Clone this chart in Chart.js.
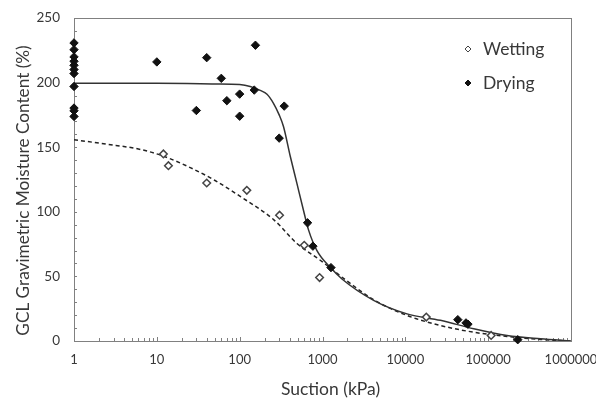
<!DOCTYPE html>
<html>
<head>
<meta charset="utf-8">
<script src="https://cdn.jsdelivr.net/npm/chart.js@4"></script>
<style>
  html, body { margin: 0; padding: 0; background: #ffffff; }
  #wrap { width: 596px; height: 399px; }
</style>
</head>
<body>
<div id="wrap"><canvas id="c" width="596" height="399"></canvas></div>
<script>
// ---------------- data ----------------
const xTickValues = [1, 10, 100, 1000, 10000, 100000, 1000000];

const wettingX = [12, 13.8, 40, 122, 303, 602, 922, 17900, 108600];
const wettingY = [144.8, 135.7, 122.3, 116.6, 97.4, 74.1, 49.1, 18.5, 4.3];

const dryingX = [1, 1, 1, 1, 1, 1, 1, 1, 1, 1, 1,
                 10, 30, 40, 60, 70, 100, 100, 150, 155, 300, 345, 660, 766, 1265,
                 43000, 54000, 57000, 227500];
const dryingY = [230.7, 225.5, 219.9, 216.5, 213.4, 210.1, 207, 197, 180.3, 178.2, 173.8,
                 216, 178.4, 219.3, 203.3, 186, 191.1, 174, 194.2, 228.9, 157, 181.8, 91.5, 73.4, 56.8,
                 16.5, 14, 13, 1];

// fitted curves
const dryFitX = [1, 10, 50, 100, 134, 177, 214, 256, 300, 338, 408, 491, 590, 678, 857, 1241, 1718, 4140, 10470, 26500, 66900, 169000, 428000, 1000000];
const dryFitY = [199.5, 199.5, 199, 198.5, 197, 194, 191, 184, 175, 166, 143, 122, 101, 86, 70, 57, 48, 31.5, 21, 16, 9.5, 4.3, 1.7, 0];

const wetFitX = [1, 2.53, 6.4, 12.2, 25.7, 49.2, 103.5, 261, 491, 939, 1795, 4140, 10470, 26500, 66900, 169000, 428000, 1000000];
const wetFitY = [155.7, 152.3, 148.2, 142.9, 134, 124.6, 111.6, 93.6, 75.5, 62.5, 48.5, 32, 19.8, 12, 6.8, 3.5, 1.2, 0];

const xTitle = 'Suction (kPa)';
const yTitle = 'GCL Gravimetric Moisture Content (%)';

// ---------------- helpers ----------------
const toPts = (xs, ys) => xs.map((x, i) => ({ x: x, y: ys[i] }));
const FONT = 'Lato, "Open Sans", sans-serif';
const TXT = '#383838';
const AXIS = '#808080';

const decor = {
  id: 'decor',
  beforeDraw(chart) {
    const ctx = chart.ctx;
    ctx.save();
    ctx.fillStyle = '#ffffff';
    ctx.fillRect(0, 0, chart.width, chart.height);
    ctx.restore();
  },
  beforeDatasetsDraw(chart) {
    const { ctx, chartArea: a, scales: { x, y } } = chart;
    ctx.save();
    ctx.strokeStyle = AXIS;
    ctx.lineWidth = 1;
    ctx.beginPath();
    for (let d = 0; d < 6; d++) {
      for (let k = 1; k <= 9; k++) {
        const px = Math.round(x.getPixelForValue(k * Math.pow(10, d))) + 0.5;
        ctx.moveTo(px, a.bottom);
        ctx.lineTo(px, a.bottom - (k === 1 ? 4 : 3));
      }
    }
    for (let v = 10; v < 250; v += 10) {
      const py = Math.round(y.getPixelForValue(v)) + 0.5;
      ctx.moveTo(a.left, py);
      ctx.lineTo(a.left + 3, py);
    }
    ctx.stroke();
    ctx.strokeRect(Math.round(a.left) + 0.5, Math.round(a.top) + 0.5,
                   Math.round(a.right - a.left), Math.round(a.bottom - a.top));
    ctx.restore();
  },
  afterDraw(chart) {
    const { ctx, chartArea: a } = chart;
    ctx.save();
    ctx.fillStyle = TXT;
    ctx.font = '17.5px ' + FONT;
    ctx.textAlign = 'center';
    ctx.textBaseline = 'middle';
    ctx.fillText(xTitle, (a.left + a.right) / 2 + 8, 389);
    ctx.translate(23, (a.top + a.bottom) / 2 + 11);
    ctx.rotate(-Math.PI / 2);
    ctx.font = '17.2px ' + FONT;
    ctx.fillText(yTitle, 0, 0);
    ctx.restore();

    ctx.save();
    const items = chart.data.datasets.slice(0, 2);
    const lx = 468, ly0 = 49, dy = 34;
    items.forEach((ds, i) => {
      const cy = ly0 + i * dy;
      ctx.beginPath();
      ctx.moveTo(lx - 3, cy);
      ctx.lineTo(lx, cy - 3);
      ctx.lineTo(lx + 3, cy);
      ctx.lineTo(lx, cy + 3);
      ctx.closePath();
      ctx.fillStyle = ds.pointBackgroundColor;
      ctx.fill();
      ctx.strokeStyle = ds.pointBorderColor;
      ctx.lineWidth = 1;
      ctx.stroke();
      ctx.fillStyle = TXT;
      ctx.font = '17.5px ' + FONT;
      ctx.textAlign = 'left';
      ctx.textBaseline = 'middle';
      ctx.fillText(ds.label, lx + 15, cy);
    });
    ctx.restore();
  }
};

new Chart(document.getElementById('c'), {
  type: 'scatter',
  data: {
    datasets: [
      {
        label: 'Wetting',
        data: toPts(wettingX, wettingY),
        pointStyle: 'rectRot',
        pointRadius: 3.8,
        pointBorderWidth: 1.5,
        pointBackgroundColor: '#ffffff',
        pointBorderColor: '#444444',
        showLine: false,
        clip: false
      },
      {
        label: 'Drying',
        data: toPts(dryingX, dryingY),
        pointStyle: 'rectRot',
        pointRadius: 4.2,
        pointBorderWidth: 1,
        pointBackgroundColor: '#111111',
        pointBorderColor: '#111111',
        showLine: false,
        clip: false
      },
      {
        label: 'Drying fit',
        data: toPts(dryFitX, dryFitY),
        showLine: true,
        pointRadius: 0,
        borderColor: '#333333',
        borderWidth: 1.5,
        cubicInterpolationMode: 'monotone',
        fill: false
      },
      {
        label: 'Wetting fit',
        data: toPts(wetFitX, wetFitY),
        showLine: true,
        pointRadius: 0,
        borderColor: '#222222',
        borderWidth: 1.5,
        borderDash: [4, 3],
        cubicInterpolationMode: 'monotone',
        fill: false
      }
    ]
  },
  options: {
    responsive: false,
    animation: false,
    devicePixelRatio: 1,
    layout: { padding: { left: 0, top: 18, right: 25, bottom: 0 } },
    plugins: {
      legend: { display: false },
      tooltip: { enabled: false }
    },
    scales: {
      x: {
        type: 'logarithmic',
        min: 1,
        max: 1000000,
        afterBuildTicks: s => { s.ticks = xTickValues.map(v => ({ value: v })); },
        afterFit: s => { s.height = 58; s.paddingLeft = 0; s.paddingRight = 0; },
        ticks: {
          callback: v => String(v),
          autoSkip: false,
          maxRotation: 0,
          padding: 11.5,
          color: TXT,
          font: { family: FONT, size: 13 }
        },
        grid: { display: false, drawTicks: false },
        border: { display: false }
      },
      y: {
        type: 'linear',
        min: 0,
        max: 250,
        afterFit: s => { s.width = 74; s.paddingTop = 0; s.paddingBottom = 0; },
        ticks: {
          stepSize: 50,
          padding: 14,
          color: TXT,
          font: { family: FONT, size: 13.5 }
        },
        grid: { display: false, drawTicks: false },
        border: { display: false }
      }
    }
  },
  plugins: [decor]
});
</script>
</body>
</html>
